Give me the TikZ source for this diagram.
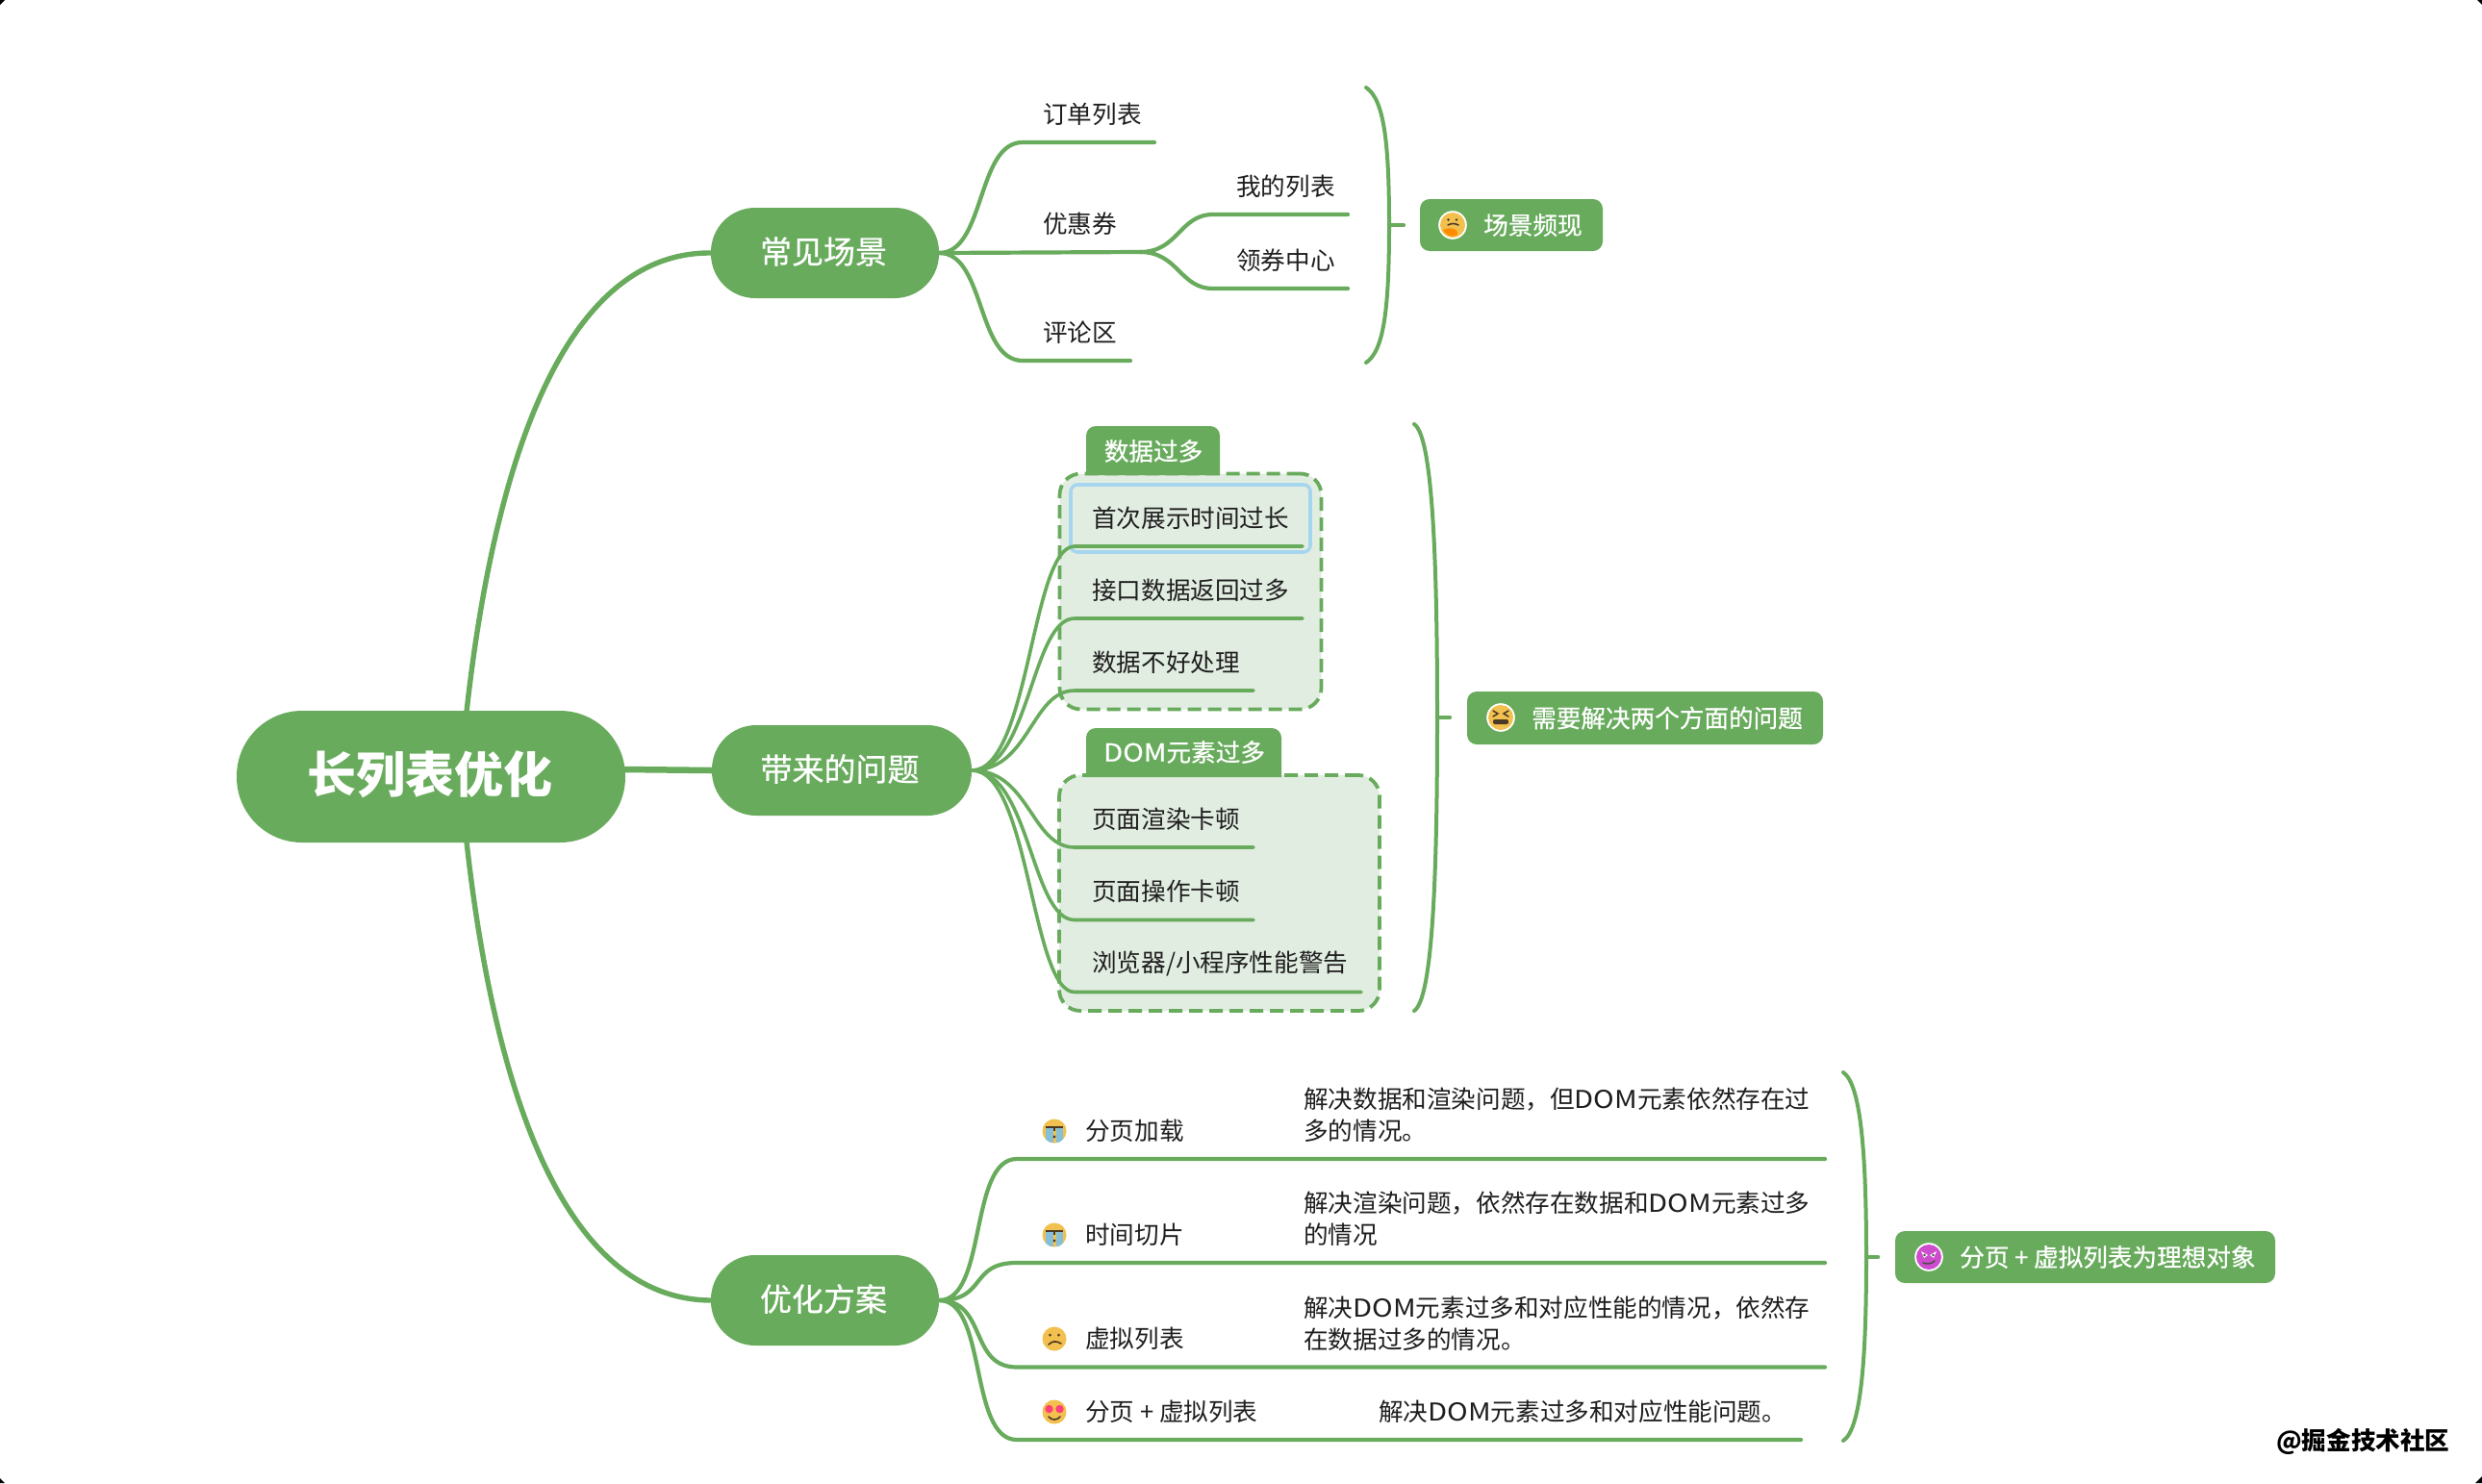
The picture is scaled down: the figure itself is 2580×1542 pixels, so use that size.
\documentclass[tikz,border=0pt]{standalone}
\usepackage{fontspec}
\setmainfont{Noto Sans CJK SC}
\newfontfamily\medf[FakeBold=0.6]{Noto Sans CJK SC}
\newcommand{\fsz}[2]{\fontsize{#1}{#2}\selectfont}
\newcommand{\dom}{\scalebox{1.14}[1]{DOM}}
\definecolor{mmgreen}{HTML}{68AB5C}
\definecolor{mmfill}{HTML}{E2EDE2}
\definecolor{mmblue}{HTML}{A6D6EE}
\definecolor{mmtext}{HTML}{1E1E1E}
\definecolor{emoy}{HTML}{F2C04E}
\definecolor{emod}{HTML}{4A3A25}
\tikzset{
  x=1pt,y=-1pt,
  pill/.style={fill=mmgreen,text=white,inner sep=0pt,rounded corners=#1},
  badge/.style={fill=mmgreen,inner sep=0pt,rounded corners=10pt,minimum height=54pt},
  badgetxt/.style={text=white,inner sep=0pt,anchor=west,font=\medf\fsz{25.6}{30}},
  lbl/.style={text=mmtext,inner sep=0pt,anchor=west,font=\fsz{25.6}{33},align=left},
  tagtxt/.style={text=white,inner sep=0pt,font=\medf\fsz{25.6}{30}},
  branch/.style={draw=mmgreen,line width=4.2pt,line cap=round,line join=round},
  mainbranch/.style={draw=mmgreen,line width=5.4pt,line cap=butt},
  brace/.style={draw=mmgreen,line width=4pt,line cap=round},
  stem/.style={draw=mmgreen,line width=4.4pt,line cap=round},
  dashbox/.style={fill=mmfill,draw=mmgreen,line width=3.8pt,rounded corners=22pt,dash pattern=on 14pt off 7pt},
  hilite/.style={draw=mmblue,line width=3.6pt,rounded corners=7pt},
  emocry/.pic={
    \fill[emoy] (0,0) circle (12.5);
    \begin{scope}
      \clip (0,0) circle (12.5);
      \fill[cyan!45!teal!55!white] (-9,-3) rectangle (-1.5,13);
      \fill[cyan!45!teal!55!white] (1.5,-3) rectangle (9,13);
    \end{scope}
    \draw[emod,line width=2pt] (-9,-4) -- (9,-4);
    \draw[emod,line width=2pt] (0,-4) -- (0,0);
    \fill[emod] (0,6) circle (1.6);
  },
  emosad/.pic={
    \fill[emoy] (0,0) circle (12.5);
    \fill[emod] (-4.5,-4) circle (1.5);
    \fill[emod] (4.5,-4) circle (1.5);
    \draw[emod,line width=1.6pt,line cap=round] (-6,6) .. controls (-2,2) and (2,2) .. (7,5);
  },
  emolove/.pic={
    \fill[emoy] (0,0) circle (12.5);
    \fill[red!70!magenta!75!white] (-5.5,-3) circle (4.2);
    \fill[red!70!magenta!75!white] (5.5,-3) circle (4.2);
    \draw[emod,line width=1.6pt,line cap=round] (-6,5) .. controls (-3,9) and (3,9) .. (6,5);
  },
  emothink/.pic={
    \fill[white] (0,0) circle (14.8);
    \fill[emoy] (0,0) circle (13);
    \fill[orange!90!yellow] (-10,5) .. controls (-2,1) and (7,5) .. (5,10) .. controls (0,13.5) and (-6,12) .. (-10,5) -- cycle;
    \fill[emod] (-4.5,-5.5) circle (1.4);
    \fill[emod] (4,-5.5) circle (1.4);
    \draw[emod,line width=1.6pt,line cap=round] (-5,0) .. controls (-1,-2) and (2,-2) .. (6,0);
  },
  emoxx/.pic={
    \fill[white] (0,0) circle (14.8);
    \fill[emoy] (0,0) circle (13);
    \draw[emod,line width=1.5pt,line cap=round] (-8,-7) -- (-3,-4) -- (-8,-1);
    \draw[emod,line width=1.5pt,line cap=round] (8,-7) -- (3,-4) -- (8,-1);
    \fill[emod,rounded corners=2pt] (-8,2) rectangle (8,7);
  },
  emodevil/.pic={
    \fill[white] (0,0) circle (14.8);
    \fill[violet!55!magenta!70!white] (0,0) circle (13);
    \fill[white] (-8,-6) -- (-1,-2) -- (-5,1) -- cycle;
    \fill[white] (8,-6) -- (1,-2) -- (5,1) -- cycle;
    \fill[black!70] (-4.5,-2) circle (1.3);
    \fill[black!70] (4.5,-2) circle (1.3);
    \draw[black!70,line width=1.5pt,line cap=round] (-6,6) .. controls (-2,8) and (3,7) .. (6,4);
  },
}
\begin{document}
\begin{tikzpicture}
\useasboundingbox (0,0) rectangle (2580,1542);
\fill[white] (0,0) rectangle (2580,1542);
% window corners
\fill[black] (0,0) -- (5,0) -- (0,5) -- cycle;
\fill[black] (2580,0) -- (2575,0) -- (2580,5) -- cycle;
\fill[black] (0,1542) -- (5,1542) -- (0,1537) -- cycle;
\fill[black] (2580,1542) -- (2573,1542) -- (2580,1535) -- cycle;

% boundary boxes
\node[dashbox,minimum width=272pt,minimum height=245pt,inner sep=0pt] (boxa) at (1237.5,615) {};
\node[dashbox,minimum width=333pt,minimum height=245pt,inner sep=0pt] (boxb) at (1267.5,928.5) {};
\node[hilite,minimum width=249pt,minimum height=70pt,inner sep=0pt] (sel) at (1237.5,539) {};
\fill[mmgreen] [sharp corners] (1129,494) [rounded corners=10pt] -- (1129,443) -- (1268,443) [sharp corners] -- (1268,494) -- cycle;
\fill[mmgreen] [sharp corners] (1129,808) [rounded corners=10pt] -- (1129,757) -- (1332,757) [sharp corners] -- (1332,808) -- cycle;
\node[tagtxt] (taga) at (1199,469) {数据过多};
\node[tagtxt] (tagb) at (1231,782) {\dom 元素过多};

% main nodes
\node[pill=68pt,minimum width=404pt,minimum height=137pt] (root) at (448,807.5) {};
\node[pill=46pt,minimum width=237pt,minimum height=94pt] (sa) at (857.5,263) {};
\node[pill=46pt,minimum width=270pt,minimum height=94pt] (sb) at (875,801) {};
\node[pill=46pt,minimum width=237pt,minimum height=94pt] (sc) at (857.5,1352) {};
\node[text=white,inner sep=0pt,font=\bfseries\fsz{51}{60}] (troot) at (447,805.5) {长列表优化};
\node[text=white,inner sep=0pt,font=\medf\fsz{33}{38}] (tsa) at (856,261.5) {常见场景};
\node[text=white,inner sep=0pt,font=\medf\fsz{33}{38}] (tsb) at (873,799.5) {带来的问题};
\node[text=white,inner sep=0pt,font=\medf\fsz{33}{38}] (tsc) at (856,1350.5) {优化方案};

% root connectors
\coordinate (rt) at (485,740);
\coordinate (rb) at (485,875);
\coordinate (rm) at (649,800);
\draw[mainbranch] (rt) .. controls (515,470) and (590,262) .. (sa.west);
\draw[mainbranch] (rb) .. controls (515,1145) and (590,1351) .. (sc.west);
\draw[mainbranch,line width=6.5pt] (rm) -- (sb.west);

% scene group
\coordinate (a1) at (1063,148);  \coordinate (a1e) at (1200,148);
\coordinate (a2) at (1185,262);
\coordinate (a3) at (1063,375);  \coordinate (a3e) at (1175,375);
\coordinate (a21) at (1261,223); \coordinate (a21e) at (1401,223);
\coordinate (a22) at (1261,300); \coordinate (a22e) at (1401,300);
\draw[branch] (sa.east) .. controls +(48,0) and +(-48,0) .. (a1) -- (a1e);
\draw[branch] (sa.east) .. controls +(48,0) and +(-48,0) .. (a3) -- (a3e);
\draw[branch] (sa.east) -- (a2);
\draw[branch] (a2) .. controls +(40,0) and +(-35,0) .. (a21) -- (a21e);
\draw[branch] (a2) .. controls +(40,0) and +(-35,0) .. (a22) -- (a22e);
\node[lbl] (ta1) at (1084,119) {订单列表};
\node[lbl] (ta2) at (1084,233) {优惠券};
\node[lbl] (ta3) at (1084,346) {评论区};
\node[lbl] (ta21) at (1285,194) {我的列表};
\node[lbl] (ta22) at (1285,271) {领券中心};

% problem group
\foreach \nm/\yy/\xe in {b1/568/1354,b2/643/1354,b3/718/1303,b4/881/1303,b5/956.5/1303,b6/1031.5/1415}{
  \coordinate (\nm) at (1117,\yy);
  \coordinate (\nm e) at (\xe,\yy);
  \draw[branch,line width=3.6pt] (sb.east) .. controls +(60,0) and +(-45,0) .. (\nm) -- (\nm e);
}
\node[lbl] (tb1) at (1135,539) {首次展示时间过长};
\node[lbl] (tb2) at (1135,614) {接口数据返回过多};
\node[lbl] (tb3) at (1135,688.5) {数据不好处理};
\node[lbl] (tb4) at (1135,851.5) {页面渲染卡顿};
\node[lbl] (tb5) at (1135,927) {页面操作卡顿};
\node[lbl] (tb6) at (1135,1002) {浏览器/小程序性能警告};

% solution group
\foreach \nm/\yy/\xe in {c1/1205/1897,c2/1313/1897,c3/1421.5/1897,c4/1497/1872}{
  \coordinate (\nm) at (1057,\yy);
  \coordinate (\nm e) at (\xe,\yy);
  \draw[branch] (sc.east) .. controls +(50,0) and +(-50,0) .. (\nm) -- (\nm e);
}
\pic at (1096,1176) {emocry};
\pic at (1096,1284) {emocry};
\pic at (1096,1392) {emosad};
\pic at (1096,1468) {emolove};
\node[lbl] (tc1) at (1128,1176) {分页加载};
\node[lbl] (tc2) at (1128,1284) {时间切片};
\node[lbl] (tc3) at (1128,1392) {虚拟列表};
\node[lbl] (tc4) at (1128,1468) {分页 + 虚拟列表};
\node[lbl] (dc1) at (1355,1159.5) {解决数据和渲染问题，但\dom 元素依然存在过\\多的情况。};
\node[lbl] (dc2) at (1355,1267.5) {解决渲染问题，依然存在数据和\dom 元素过多\\的情况};
\node[lbl] (dc3) at (1355,1376) {解决\dom 元素过多和对应性能的情况，依然存\\在数据过多的情况。};
\node[lbl] (dc4) at (1433,1468) {解决\dom 元素过多和对应性能问题。};

% summary braces
\coordinate (ba1) at (1420,91);  \coordinate (ba2) at (1444,234);  \coordinate (ba3) at (1420,377); \coordinate (bas) at (1459,234);
\coordinate (bb1) at (1470,441); \coordinate (bb2) at (1494,746);  \coordinate (bb3) at (1470,1051); \coordinate (bbs) at (1507,746);
\coordinate (bc1) at (1916,1115);\coordinate (bc2) at (1940,1307); \coordinate (bc3) at (1916,1498); \coordinate (bcs) at (1952,1307);
\draw[brace] (ba1) .. controls +(18,12) and +(0,-90) .. (ba2) .. controls +(0,90) and +(18,-12) .. (ba3);
\draw[brace] (bb1) .. controls +(18,12) and +(0,-180) .. (bb2) .. controls +(0,180) and +(18,-12) .. (bb3);
\draw[brace] (bc1) .. controls +(18,12) and +(0,-110) .. (bc2) .. controls +(0,110) and +(18,-12) .. (bc3);
\draw[stem] (ba2) -- (bas);
\draw[stem] (bb2) -- (bbs);
\draw[stem] (bc2) -- (bcs);

% badges
\node[badge,minimum width=190pt] (ga) at (1571,234) {};
\node[badge,minimum width=370pt,minimum height=55pt] (gb) at (1710,746.5) {};
\node[badge,minimum width=395pt] (gc) at (2167.5,1307) {};
\pic at (1510,234) {emothink};
\pic at (1560,746) {emoxx};
\pic at (2005,1307) {emodevil};
\node[badgetxt] (tga) at (1542,234) {场景频现};
\node[badgetxt] (tgb) at (1592,746.5) {需要解决两个方面的问题};
\node[badgetxt] (tgc) at (2037,1307) {分页 + 虚拟列表为理想对象};

% watermark
\node[inner sep=0pt,anchor=west,text=black,font=\bfseries\fsz{25.6}{30}] (wm) at (2366,1499) {@掘金技术社区};
\end{tikzpicture}
\end{document}
